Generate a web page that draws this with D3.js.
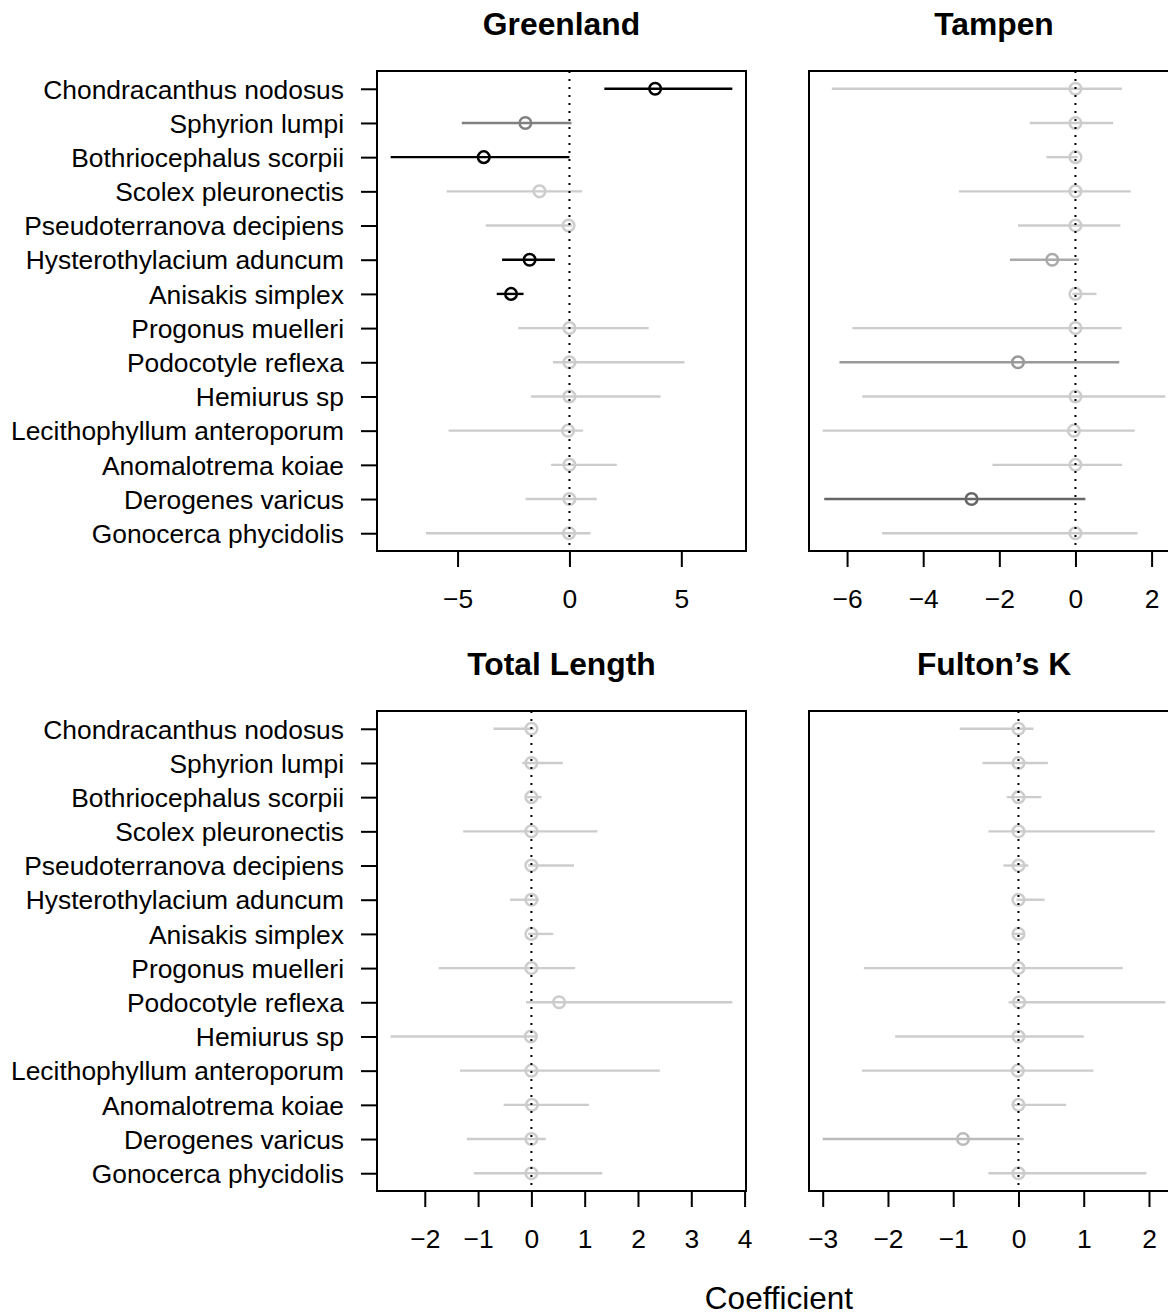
<!DOCTYPE html>
<html>
<head>
<meta charset="utf-8">
<script src="https://cdn.jsdelivr.net/npm/d3@7"></script>
<style>
  html, body { margin: 0; padding: 0; background: #ffffff; }
  svg { display: block; font-family: "Liberation Sans", Arial, Helvetica, sans-serif; }
</style>
</head>
<body>
<svg id="chart" width="1168" height="1316"></svg>
<script>
// ---------- DATA ----------
const species = [
  "Chondracanthus nodosus", "Sphyrion lumpi", "Bothriocephalus scorpii",
  "Scolex pleuronectis", "Pseudoterranova decipiens", "Hysterothylacium aduncum",
  "Anisakis simplex", "Progonus muelleri", "Podocotyle reflexa", "Hemiurus sp",
  "Lecithophyllum anteroporum", "Anomalotrema koiae", "Derogenes varicus",
  "Gonocerca phycidolis"
];

const panelTitles = ["Greenland", "Tampen", "Total Length", "Fulton\u2019s K"];

// Greenland
const greenlandEst = [3.83, -1.97, -3.83, -1.34, -0.04, -1.78, -2.61, 0, 0, 0, -0.06, 0, 0, -0.02];
const greenlandLo  = [1.56, -4.81, -7.99, -5.49, -3.74, -3.01, -3.25, -2.29, -0.74, -1.72, -5.40, -0.82, -1.96, -6.41];
const greenlandHi  = [7.28, 0.09, 0.00, 0.57, 0.12, -0.65, -2.05, 3.54, 5.14, 4.07, 0.61, 2.12, 1.22, 0.94];
const greenlandSig = [6, 4, 6, 0, 0, 6, 6, 0, 0, 0, 0, 0, 0, 0];
const greenlandTicks = [-5, 0, 5];

// Tampen
const tampenEst = [0, 0, 0, 0, 0, -0.61, 0, 0, -1.51, 0, -0.04, 0, -2.73, 0];
const tampenLo  = [-6.40, -1.20, -0.76, -3.06, -1.51, -1.72, -0.08, -5.86, -6.20, -5.60, -6.64, -2.18, -6.60, -5.08];
const tampenHi  = [1.22, 0.99, 0.06, 1.45, 1.18, 0.09, 0.55, 1.21, 1.15, 2.36, 1.56, 1.23, 0.26, 1.63];
const tampenSig = [0, 0, 0, 0, 0, 2, 0, 0, 3, 0, 0, 0, 5, 0];
const tampenTicks = [-6, -4, -2, 0, 2];

// Total Length
const lengthEst = [0, 0, 0, 0, 0, 0, 0, 0, 0.52, -0.01, 0, 0.01, 0, 0];
const lengthLo  = [-0.71, -0.17, -0.08, -1.28, -0.06, -0.40, -0.06, -1.74, -0.10, -2.64, -1.34, -0.52, -1.21, -1.08];
const lengthHi  = [0.05, 0.59, 0.19, 1.24, 0.80, 0.14, 0.41, 0.82, 3.77, 0.10, 2.41, 1.08, 0.27, 1.33];
const lengthSig = [0, 0, 0, 0, 0, 0, 0, 0, 0, 0, 0, 0, 0, 0];
const lengthTicks = [-2, -1, 0, 1, 2, 3, 4];

// Fulton's K
const fultonEst = [0, 0, 0, 0, 0, 0, 0, 0, 0.01, 0, -0.01, 0, -0.85, 0];
const fultonLo  = [-0.90, -0.55, -0.18, -0.46, -0.23, -0.03, -0.08, -2.37, -0.15, -1.89, -2.40, -0.10, -3.00, -0.46];
const fultonHi  = [0.23, 0.45, 0.35, 2.09, 0.15, 0.40, 0.08, 1.60, 2.25, 1.00, 1.15, 0.73, 0.08, 1.96];
const fultonSig = [0, 0, 0, 0, 0, 0, 0, 0, 0, 0, 0, 0, 1, 0];
const fultonTicks = [-3, -2, -1, 0, 1, 2];

const xLabel = "Coefficient";

// ---------- DRAWING ----------
const svg = d3.select("#chart");
svg.append("rect").attr("width", 1168).attr("height", 1316).attr("fill", "#ffffff");

const greyScale = d3.scaleOrdinal()
  .domain([0, 1, 2, 3, 4, 5, 6])
  .range(["#cccccc", "#bbbbbb", "#aaaaaa", "#999999", "#808080", "#666666", "#000000"]);

const panels = [
  { title: panelTitles[0], est: greenlandEst, lo: greenlandLo, hi: greenlandHi, sig: greenlandSig, ticks: greenlandTicks, col: 0, row: 0 },
  { title: panelTitles[1], est: tampenEst,    lo: tampenLo,    hi: tampenHi,    sig: tampenSig,    ticks: tampenTicks,    col: 1, row: 0 },
  { title: panelTitles[2], est: lengthEst,    lo: lengthLo,    hi: lengthHi,    sig: lengthSig,    ticks: lengthTicks,    col: 0, row: 1 },
  { title: panelTitles[3], est: fultonEst,    lo: fultonLo,    hi: fultonHi,    sig: fultonSig,    ticks: fultonTicks,    col: 1, row: 1 }
];

const colX = [[377, 746], [809, 1179]];
const rowY = [[71, 551], [711, 1191]];
const fontSize = 26.4;
const titleSize = 31.8;
const tickLen = 16;

panels.forEach(p => {
  const [x0, x1] = colX[p.col];
  const [y0, y1] = rowY[p.row];

  const ext = d3.extent(p.lo.concat(p.hi));
  const pad = (ext[1] - ext[0]) * 0.04;
  const x = d3.scaleLinear().domain([ext[0] - pad, ext[1] + pad]).range([x0, x1]);
  const y = d3.scalePoint().domain(species).range([y0, y1]).padding(0.52);

  const g = svg.append("g");

  // title
  g.append("text")
    .attr("x", (x0 + x1) / 2)
    .attr("y", y0 - 36)
    .attr("text-anchor", "middle")
    .attr("font-weight", "bold")
    .attr("font-size", titleSize)
    .attr("fill", "#000")
    .text(p.title);

  // error bars
  const rows = species.map((s, i) => ({ s, est: p.est[i], lo: p.lo[i], hi: p.hi[i], sig: p.sig[i] }));
  g.selectAll("line.err").data(rows).enter().append("line")
    .attr("class", "err")
    .attr("x1", d => x(d.lo)).attr("x2", d => x(d.hi))
    .attr("y1", d => y(d.s)).attr("y2", d => y(d.s))
    .attr("stroke", d => greyScale(d.sig))
    .attr("stroke-width", 2.4);

  g.selectAll("circle.pt").data(rows).enter().append("circle")
    .attr("class", "pt")
    .attr("cx", d => x(d.est)).attr("cy", d => y(d.s))
    .attr("r", 5.8)
    .attr("fill", "none")
    .attr("stroke", d => greyScale(d.sig))
    .attr("stroke-width", 2.5);

  // zero reference dotted line
  g.append("line")
    .attr("x1", x(0)).attr("x2", x(0))
    .attr("y1", y0).attr("y2", y1)
    .attr("stroke", "#000")
    .attr("stroke-width", 2)
    .attr("stroke-dasharray", "2,6");

  // box
  g.append("rect")
    .attr("x", x0).attr("y", y0)
    .attr("width", x1 - x0).attr("height", y1 - y0)
    .attr("fill", "none").attr("stroke", "#000").attr("stroke-width", 2);

  // x axis
  const xAxis = d3.axisBottom(x)
    .tickValues(p.ticks)
    .tickSize(tickLen)
    .tickSizeOuter(0)
    .tickFormat(d => d < 0 ? "\u2212" + Math.abs(d) : String(d));
  const ax = g.append("g").attr("transform", `translate(0,${y1})`).call(xAxis);
  ax.select(".domain").remove();
  ax.selectAll(".tick line").attr("stroke", "#000").attr("stroke-width", 2);
  ax.selectAll(".tick text")
    .attr("font-size", fontSize)
    .attr("font-family", "'Liberation Sans', Arial, sans-serif")
    .attr("fill", "#000")
    .attr("y", 57)
    .attr("dy", 0);

  // y axis (left column only)
  if (p.col === 0) {
    const yAxis = d3.axisLeft(y).tickSize(tickLen).tickSizeOuter(0).tickPadding(0);
    const ay = g.append("g").attr("transform", `translate(${x0},0)`).call(yAxis);
    ay.select(".domain").remove();
    ay.selectAll(".tick line").attr("stroke", "#000").attr("stroke-width", 2);
    ay.selectAll(".tick text")
      .attr("font-size", fontSize)
      .attr("font-family", "'Liberation Sans', Arial, sans-serif")
      .attr("fill", "#000")
      .attr("x", -(x0 - 344))
      .attr("dy", "0.35em");
  }
});

svg.append("text")
  .attr("x", 779)
  .attr("y", 1309)
  .attr("text-anchor", "middle")
  .attr("font-size", 31.5)
  .attr("fill", "#000")
  .text(xLabel);
</script>
</body>
</html>
